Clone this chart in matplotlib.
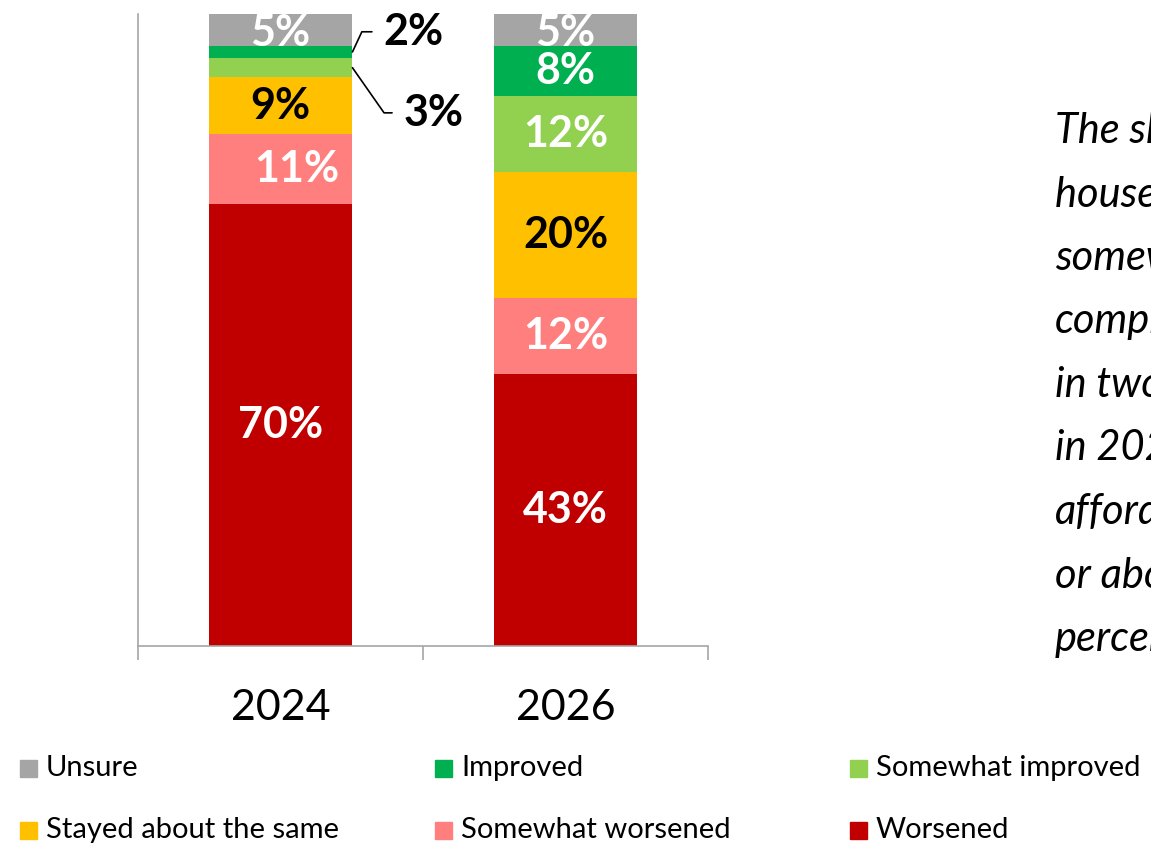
import matplotlib
matplotlib.use("Agg")
import matplotlib.pyplot as plt
import numpy as np

years = ["2024", "2026"]
series = ["Worsened", "Somewhat worsened", "Stayed about the same",
          "Somewhat improved", "Improved", "Unsure"]
worsened = [70, 43]
somewhat_worsened = [11, 12]
stayed = [9, 20]
somewhat_improved = [3, 12]
improved = [2, 8]
unsure = [5, 5]
values = [worsened, somewhat_worsened, stayed, somewhat_improved, improved, unsure]
colors = ["#C00000", "#FF7F7F", "#FFC000", "#92D050", "#00B050", "#A5A5A5"]
label_colors = ["white", "white", "black", "white", "white", "white"]
legend_order = ["Unsure", "Improved", "Somewhat improved",
                "Stayed about the same", "Somewhat worsened", "Worsened"]
side_text = ["The share of", "households saying", "somewhat or", "completely",
             "in two years", "in 2026 than", "affordable", "or about the", "percentage"]

FONT = "Lato"
W, H = 1151, 844
fig = plt.figure(figsize=(W / 100, H / 100), dpi=100)
ax = fig.add_axes([138 / W, 1 - 646 / H, 570 / W, 632 / H])

x = np.arange(len(years))
bottom = np.zeros(len(years))
bars = []
for vals, col in zip(values, colors):
    b = ax.bar(x, vals, width=0.505, bottom=bottom, color=col, edgecolor="none")
    bars.append(b)
    bottom += np.array(vals)

# data labels
for si, (vals, b) in enumerate(zip(values, bars)):
    for i, v in enumerate(vals):
        rect = b[i]
        cx = rect.get_x() + rect.get_width() / 2
        cy = rect.get_y() + rect.get_height() / 2
        txt = f"{v}%"
        if v <= 3:
            # small segments: outside labels with leader lines
            if series[si] == "Improved":
                off, ang = (22, 14.5), 65
            else:
                off, ang = (36.5, -32.5), -55
            ax.annotate(txt, xy=(rect.get_x() + rect.get_width(), cy),
                        xytext=off, textcoords="offset points",
                        ha="left", va="center", fontsize=31, fontweight="bold",
                        family=FONT, color="black",
                        arrowprops=dict(arrowstyle="-", color="black", lw=1.2,
                                        shrinkA=6, shrinkB=0,
                                        relpos=(0, 0.5),
                                        connectionstyle=f"angle,angleA=0,angleB={ang},rad=0"))
            continue
        dx = 12 if (series[si] == "Somewhat worsened" and i == 0) else 0
        dy = -2 if series[si] == "Unsure" else 0
        ax.annotate(txt, xy=(cx, cy), xytext=(dx, dy), textcoords="offset points",
                    ha="center", va="center", fontsize=31, fontweight="bold",
                    family=FONT, color=label_colors[si])

ax.set_xlim(-0.5, 1.5)
ax.set_ylim(0, 100)
ax.set_yticks([])
for s in ["top", "right"]:
    ax.spines[s].set_visible(False)
for s in ["left", "bottom"]:
    ax.spines[s].set_color("#A6A6A6")
    ax.spines[s].set_linewidth(1.2)

ax.set_xticks(x)
ax.set_xticklabels(years, fontsize=31, family=FONT)
ax.tick_params(axis="x", which="major", length=0, pad=31)
ax.set_xticks([-0.5, 0.5, 1.5], minor=True)
ax.tick_params(axis="x", which="minor", length=10, width=1.2, color="#A6A6A6", direction="out")

# legend (manual grid)
col_x = [20, 435, 850]
row_y = [768, 830]
for k, name in enumerate(legend_order):
    r, c = divmod(k, 3)
    col = colors[series.index(name)]
    fig.patches.append(plt.Rectangle(((col_x[c]) / W, 1 - (row_y[r] + 9) / H),
                                     17 / W, 17 / H, transform=fig.transFigure,
                                     color=col, figure=fig))
    fig.text((col_x[c] + 26) / W, 1 - row_y[r] / H, name, fontsize=21, family=FONT,
             ha="left", va="center", color="black")

# side text
for j, line in enumerate(side_text):
    fig.text(1055 / W, 1 - (131 + j * 63.5) / H, line, fontsize=30, family=FONT,
             style="italic", ha="left", va="center", color="black")

fig.savefig("out.png", dpi=100)
